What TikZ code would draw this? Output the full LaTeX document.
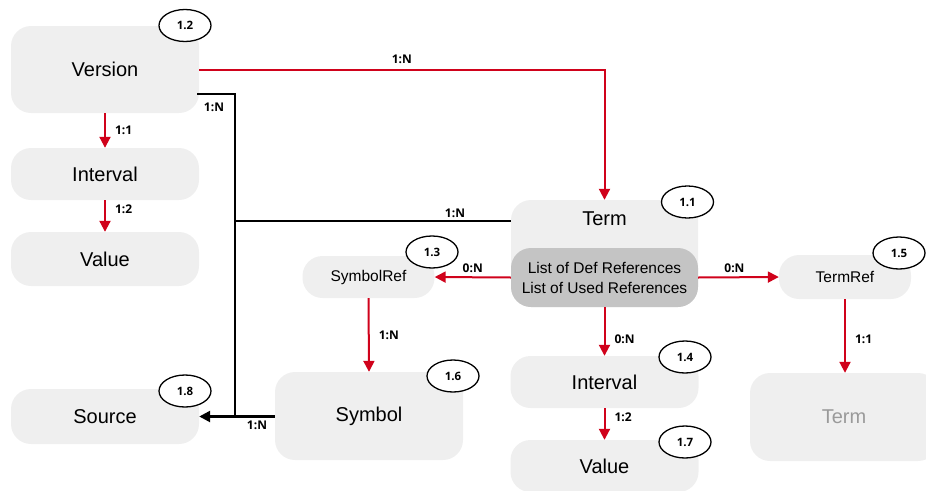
\documentclass[tikz,border=0pt]{standalone}
\usepackage{fontspec}
\setmainfont{Liberation Sans}
\newfontfamily\lblfont{Open Sans}
\usetikzlibrary{arrows.meta,calc,shapes.geometric}
\definecolor{boxgray}{HTML}{EFEFEF}
\definecolor{listgray}{HTML}{C4C4C4}
\definecolor{relred}{HTML}{D0021B}
\definecolor{fadetext}{HTML}{9A9A9A}
\begin{document}
\begin{tikzpicture}[x=1pt,y=-1pt,
  box/.style={fill=boxgray, rounded corners=20pt, inner sep=0pt, font=\fontsize{20}{24}\selectfont},
  smallbox/.style={box, font=\fontsize{15.5}{19}\selectfont},
  listbox/.style={fill=listgray, rounded corners=20pt, inner sep=0pt, align=center, font=\fontsize{15.5}{20}\selectfont},
  num/.style={draw, ellipse, line width=1.3pt, fill=white, minimum width=52pt, minimum height=32pt, inner sep=0pt, font=\lblfont\bfseries\fontsize{11.5}{13}\selectfont},
  rel/.style={draw=relred, line width=2pt, -{Triangle[length=11pt,width=11pt]}},
  blk/.style={draw=black, line width=2.5pt},
  card/.style={font=\lblfont\bfseries\fontsize{12}{14}\selectfont, inner sep=1pt}
]
\useasboundingbox (0,0) rectangle (926,490);

% boxes
\node[box, minimum width=188pt, minimum height=87pt] (version) at (105,69.5) {Version};
\node[box, minimum width=188pt, minimum height=52pt] (lint) at (105,174) {Interval};
\node[box, minimum width=188pt, minimum height=54pt] (lval) at (105,259) {Value};
\node[box, minimum width=188pt, minimum height=55pt] (source) at (105,416.5) {Source};

\node[box, minimum width=187pt, minimum height=107pt] (term) at (604.5,253.5) {};
\node[font=\fontsize{20}{24}\selectfont, inner sep=0pt] (termtitle) at (604.5,219) {Term};
\node[listbox, minimum width=187pt, minimum height=59pt] (termlist) at (604.5,277.5) {List of Def References\\List of Used References};

\node[smallbox, minimum width=132pt, minimum height=42pt] (symref) at (368.5,277) {SymbolRef};
\node[smallbox, minimum width=132pt, minimum height=44pt] (termref) at (845,277) {TermRef};
\node[box, minimum width=188pt, minimum height=88pt] (symbol) at (369,416) {Symbol};
\node[box, minimum width=188pt, minimum height=52pt] (cint) at (604.5,382) {Interval};
\node[box, minimum width=188pt, minimum height=52pt] (cval) at (604.5,466) {Value};
\node[box, minimum width=188pt, minimum height=88pt, text=fadetext] (rterm) at (844,417) {Term};

% number tags
\node[num] (n12) at (185,25.5) {1.2};
\node[num] (n11) at (687.5,202) {1.1};
\node[num] (n13) at (432,252) {1.3};
\node[num] (n15) at (899,253) {1.5};
\node[num] (n14) at (685,357) {1.4};
\node[num] (n17) at (685,442) {1.7};
\node[num] (n16) at (453,376) {1.6};
\node[num] (n18) at (185,391) {1.8};

% black connectors
\coordinate (vstart) at ($(version.south east)+(-2,-19)$);
\coordinate (junc) at (235,416.5);
\coordinate (tw) at ($(term.north west)+(0,21)$);
\draw[blk] (vstart) -| (junc);
\draw[blk] (tw) -- (tw -| junc);
\draw[blk, -{Triangle[length=11pt,width=11pt]}] (symbol.west |- source.east) -- (source.east);
\node[card] (c1) at (214,107) {1:N};
\node[card] (c2) at (455,213) {1:N};
\node[card] (c3) at (257,425) {1:N};

% red connectors
\draw[rel] (version.east) -| node[card, pos=0.25, above=4pt] {1:N} (term.north);
\draw[rel] (version.south) -- node[card, right=8pt] {1:1} (lint.north);
\draw[rel] (lint.south) -- node[card, right=8pt, pos=0.3] {1:2} (lval.north);
\draw[rel] (termlist.west) -- node[card, above=3pt, pos=0.5] {0:N} (symref.east);
\draw[rel] (termlist.east) -- node[card, above=3pt, pos=0.45] {0:N} (termref.west);
\draw[rel] (termlist.south) -- node[card, right=8pt, pos=0.65] {0:N} (cint.north);
\draw[rel] (cint.south) -- node[card, right=8pt, pos=0.3] {1:2} (cval.north);
\draw[rel] (symref.south) -- node[card, right=8pt, pos=0.5] {1:N} (symbol.north);
\draw[rel] (termref.south) -- node[card, right=8pt, pos=0.55] {1:1} (termref.south |- rterm.north);
\end{tikzpicture}
\end{document}
